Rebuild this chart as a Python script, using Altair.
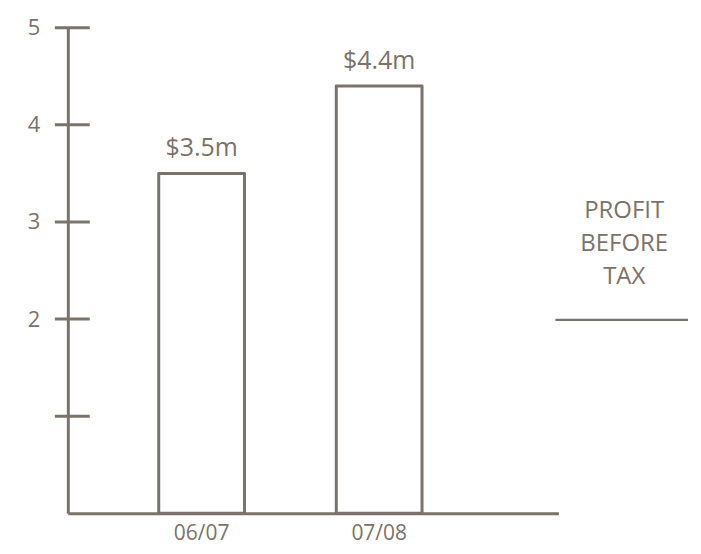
import altair as alt
import pandas as pd

categories = ["06/07", "07/08"]
profits = [3.5, 4.4]
bar_labels = ["$3.5m", "$4.4m"]
y_ticks = [1, 2, 3, 4, 5]
legend_lines = ["PROFIT", "BEFORE", "TAX"]

INK = "#7b726a"
FONT = "Open Sans"

bars_df = pd.DataFrame({"year": categories, "profit": profits, "label": bar_labels})
ticks_df = pd.DataFrame({"t": y_ticks})
note_df = pd.DataFrame({"txt": [legend_lines]})

x_enc = alt.X(
    "year:N",
    title=None,
    sort=categories,
    scale=alt.Scale(range=[0, 492], paddingInner=0.517, paddingOuter=0.64, align=0.4),
    axis=alt.Axis(
        labelAngle=0, ticks=False, domainColor=INK, domainWidth=3,
        labelColor=INK, labelFontSize=21, labelFont=FONT, labelPadding=9,
    ),
)
y_scale = alt.Scale(domain=[0, 5], nice=False, zero=True)
y_enc = alt.Y(
    "profit:Q",
    title=None,
    scale=y_scale,
    axis=alt.Axis(
        values=y_ticks, ticks=False, grid=False, domainColor=INK, domainWidth=3,
        labelColor=INK, labelFontSize=22, labelFont=FONT, labelPadding=28,
        format="d",
        labelExpr="datum.value == 1 ? '' : datum.label",
    ),
)

bars = alt.Chart(bars_df).mark_bar(
    fillOpacity=0, stroke=INK, strokeWidth=3, strokeJoin="round"
).encode(x=x_enc, y=y_enc)

bar_text = alt.Chart(bars_df).mark_text(
    baseline="bottom", dy=-12, fontSize=25, font=FONT, color=INK
).encode(x=alt.X("year:N", sort=categories), y=alt.Y("profit:Q", scale=y_scale), text="label:N")

ticks = alt.Chart(ticks_df).mark_rule(stroke=INK, strokeWidth=3).encode(
    y=alt.Y("t:Q", scale=y_scale), x=alt.value(-13), x2=alt.value(22)
)

note = alt.Chart(note_df).mark_text(
    align="center", baseline="middle", fontSize=24, font=FONT, color=INK, lineHeight=33
).encode(text="txt", x=alt.value(558), y=alt.value(184))

underline = alt.Chart(note_df).mark_rule(stroke=INK, strokeWidth=2.5).encode(
    x=alt.value(489), x2=alt.value(622), y=alt.value(293)
)

chart = alt.layer(bars, bar_text, ticks, note, underline).properties(
    width=622, height=487,
    autosize=alt.AutoSizeParams(type="none"),
    padding={"left": 60, "top": 19, "right": 5, "bottom": 32},
).configure_view(stroke=None).configure_axis(grid=False)

chart.save("out.html", embed_options={"renderer": "svg", "actions": False})
